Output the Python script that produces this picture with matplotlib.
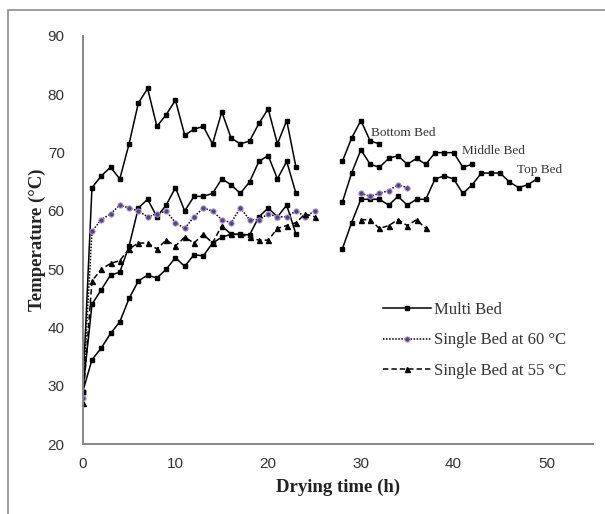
import matplotlib
matplotlib.use("Agg")
import matplotlib.pyplot as plt
from matplotlib.patches import Rectangle

# drying time (h)
t_multi_a = list(range(0, 24))
t_bottom_b = list(range(28, 33))
t_middle_b = list(range(28, 43))
t_top_b = list(range(28, 50))
t_single_a = list(range(0, 26))
t_s60_b = list(range(30, 36))
t_s55_b = list(range(30, 38))

# multi bed temperatures
bottom_a = [29.0, 64.0, 66.0, 67.5, 65.5, 71.5, 78.5, 81.0, 74.5, 76.5, 79.0, 73.0,
            74.0, 74.5, 71.5, 77.0, 72.5, 71.5, 72.0, 75.0, 77.5, 71.5, 75.5, 67.5]
bottom_b = [68.5, 72.5, 75.5, 72.0, 71.5]
middle_a = [29.0, 44.0, 46.5, 49.0, 49.5, 54.0, 60.5, 62.0, 59.0, 61.0, 64.0, 60.0,
            62.5, 62.5, 63.0, 65.5, 64.5, 63.0, 65.0, 68.5, 69.5, 65.5, 68.5, 63.0]
middle_b = [61.5, 66.5, 70.5, 68.0, 67.5, 69.0, 69.5, 68.0, 69.0, 68.0, 70.0, 70.0,
            70.0, 67.5, 68.0]
top_a = [29.0, 34.5, 36.5, 39.0, 41.0, 45.0, 48.0, 49.0, 48.5, 50.0, 52.0, 50.5,
         52.5, 52.3, 54.5, 55.5, 56.0, 56.0, 55.9, 59.0, 60.5, 59.0, 61.0, 56.0]
top_b = [53.5, 58.0, 62.0, 62.0, 62.0, 61.0, 62.5, 61.0, 62.0, 62.0, 65.5, 66.0,
         65.5, 63.0, 64.5, 66.5, 66.5, 66.5, 65.0, 64.0, 64.5, 65.5]

# single bed temperatures
s60_a = [28.0, 56.5, 58.5, 59.5, 61.0, 60.5, 60.0, 59.0, 59.5, 60.0, 58.0, 57.0,
         59.0, 60.5, 60.0, 58.5, 58.0, 60.5, 58.5, 58.5, 59.5, 59.0, 59.0, 60.0,
         59.0, 60.0]
s60_b = [63.0, 62.5, 63.0, 63.5, 64.5, 64.0]
s55_a = [27.0, 48.0, 50.0, 51.0, 51.5, 53.5, 54.5, 54.5, 53.5, 55.0, 54.0, 55.5,
         54.5, 56.0, 54.5, 57.5, 56.0, 56.0, 55.5, 55.0, 55.0, 57.0, 57.5, 58.0,
         59.5, 59.0]
s55_b = [58.5, 58.5, 57.0, 57.5, 58.5, 57.5, 58.5, 57.0]

bed_labels = ["Bottom Bed", "Middle Bed", "Top Bed"]
bed_label_pos = [(31.1, 73.4), (40.9, 70.3), (46.8, 67.0)]

serif = ["Liberation Serif", "DejaVu Serif"]
sans = ["Liberation Sans", "DejaVu Sans"]

fig = plt.figure(figsize=(6.05, 5.14), dpi=100)
ax = fig.add_axes([0.1367, 0.1356, 0.843, 0.7944])

# outer frame
fig.add_artist(Rectangle((8 / 605, -0.2), 1.2, 1.2 - 10 / 514,
                         transform=fig.transFigure, fill=False,
                         edgecolor="#8c8c8c", linewidth=1.2))

sq = dict(color="black", linewidth=1.1, marker="s", markersize=3.2)
ax.plot(t_multi_a, bottom_a, label="Multi Bed", **sq)
ax.plot(t_multi_a, middle_a, **sq)
ax.plot(t_multi_a, top_a, **sq)
ax.plot(t_bottom_b, bottom_b, **sq)
ax.plot(t_middle_b, middle_b, **sq)
ax.plot(t_top_b, top_b, **sq)

circ = dict(color="black", linewidth=1.1, linestyle=(0, (1, 1)), marker="o",
            markersize=3.8, markerfacecolor="#5a3f8e", markeredgecolor="#ab9dd0",
            markeredgewidth=0.7)
ax.plot(t_single_a, s60_a, label="Single Bed at 60 \u00b0C", **circ)
ax.plot(t_s60_b, s60_b, **circ)

tri = dict(color="black", linewidth=1.1, linestyle=(0, (3.5, 2)), marker="^",
           markersize=3.6)
ax.plot(t_single_a, s55_a, label="Single Bed at 55 \u00b0C", **tri)
ax.plot(t_s55_b, s55_b, **tri)

for lab, (x, y) in zip(bed_labels, bed_label_pos):
    ax.text(x, y, lab, fontsize=9.5, family=serif, color="#333333",
            ha="left", va="center")

ax.set_xlim(0, 55)
ax.set_ylim(20, 90)
ax.set_xticks([0, 10, 20, 30, 40, 50])
ax.set_yticks([20, 30, 40, 50, 60, 70, 80, 90])
ax.tick_params(length=0, labelsize=11, colors="#333333", pad=9)
ax.tick_params(axis="y", pad=13)
for lbl in ax.get_xticklabels() + ax.get_yticklabels():
    lbl.set_family(sans)

for s in ["top", "right"]:
    ax.spines[s].set_visible(False)
for s in ["left", "bottom"]:
    ax.spines[s].set_color("#868686")
    ax.spines[s].set_linewidth(1.4)

ax.set_xlabel("Drying time (h)", fontsize=13.5, fontweight="bold",
              family=serif, color="#222222", labelpad=6)
ax.set_ylabel("Temperature (\u00b0C)", fontsize=13.5, fontweight="bold",
              family=serif, color="#222222", labelpad=1)

leg = ax.legend(loc="upper left", bbox_to_anchor=(0.588, 0.348), frameon=False,
                handlelength=2.9, handletextpad=0.2, labelspacing=0.85,
                borderpad=0, borderaxespad=0,
                prop={"family": serif, "size": 12})
for txt in leg.get_texts():
    txt.set_color("#333333")

fig.savefig("out.png", dpi=100)
